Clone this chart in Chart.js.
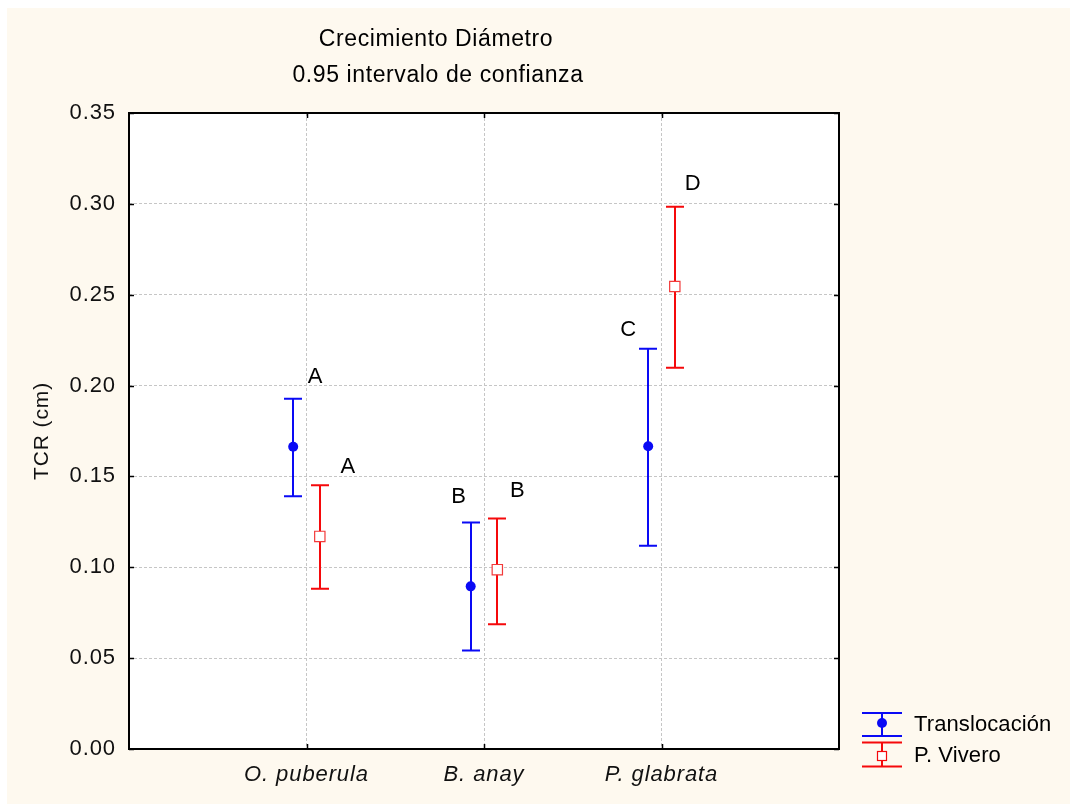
<!DOCTYPE html>
<html>
<head>
<meta charset="utf-8">
<script src="https://cdn.jsdelivr.net/npm/chart.js@4/dist/chart.umd.min.js"></script>
<style>
  html, body { margin: 0; padding: 0; background: #ffffff; }
  #wrap { position: absolute; left: 0; top: 0; width: 1070px; height: 804px; }
</style>
</head>
<body>
<div id="wrap"><canvas id="c" width="1070" height="804"></canvas></div>
<script>
// Relative growth rate of stem diameter, mean and 0.95 confidence interval
const species = ['O. puberula', 'B. anay', 'P. glabrata'];
const seriesNames = ['Translocación', 'P. Vivero'];

const translocMean = [0.1663, 0.0895, 0.1666];
const translocLow  = [0.1391, 0.0542, 0.1119];
const translocHigh = [0.1927, 0.1247, 0.2203];

const viveroMean = [0.1170, 0.0987, 0.2545];
const viveroLow  = [0.0882, 0.0687, 0.2098];
const viveroHigh = [0.1451, 0.1269, 0.2984];

// Letters of the multiple-comparison groups
const translocGroups = ['A', 'B', 'C'];
const viveroGroups   = ['A', 'B', 'D'];

const yTicks = [0.00, 0.05, 0.10, 0.15, 0.20, 0.25, 0.30, 0.35];
const titleLines = ['Crecimiento Diámetro', '0.95 intervalo de confianza'];
const yTitle = 'TCR (cm)';

// Layout / style settings
const FONT = '"Liberation Sans", Arial, Helvetica, sans-serif';
const BLUE = '#0a0af5';
const RED = '#f5090b';
const CREAM = '#fef9ef';
const GRID = '#c6c6c6';
const SHIFT = 0.075;          // horizontal shift of each series from the category centre
const CAP = 9;                // half width of whisker caps (px)
// where the group letter sits relative to the top whisker (px)
const translocLetterNudge = [[22, -22], [-12, -25], [-20, -19]];
const viveroLetterNudge   = [[28, -18], [20, -27], [18, -23]];

function points(means, shift) {
  return means.map((m, i) => ({ x: i + 1 + shift, y: m }));
}

const intervalPlugin = {
  id: 'intervals',
  beforeDraw(chart) {
    const ctx = chart.ctx;
    const a = chart.chartArea;
    ctx.fillStyle = CREAM;
    ctx.fillRect(7, 8, chart.width - 7, chart.height - 8);
    ctx.fillStyle = '#ffffff';
    ctx.fillRect(a.left, a.top, a.right - a.left, a.bottom - a.top);
    ctx.letterSpacing = '0.9px';
  },
  beforeDatasetsDraw(chart) {
    const ctx = chart.ctx;
    const xs = chart.scales.x, ys = chart.scales.y;
    ctx.save();
    chart.data.datasets.forEach(ds => {
      ctx.strokeStyle = ds.borderColor;
      ctx.lineWidth = 2;
      ds.data.forEach((p, i) => {
        const x = Math.round(xs.getPixelForValue(p.x));
        const yl = ys.getPixelForValue(ds.low[i]);
        const yh = ys.getPixelForValue(ds.high[i]);
        ctx.beginPath();
        ctx.moveTo(x, yl); ctx.lineTo(x, yh);
        ctx.moveTo(x - CAP, yl); ctx.lineTo(x + CAP, yl);
        ctx.moveTo(x - CAP, yh); ctx.lineTo(x + CAP, yh);
        ctx.stroke();
      });
    });
    ctx.restore();
  },
  afterDraw(chart) {
    const ctx = chart.ctx;
    const a = chart.chartArea;
    const xs = chart.scales.x, ys = chart.scales.y;
    ctx.save();

    // frame
    ctx.strokeStyle = '#000000';
    ctx.lineWidth = 2;
    ctx.strokeRect(a.left, a.top, a.right - a.left, a.bottom - a.top);

    // inward tick marks on all four sides
    ctx.lineWidth = 1.5;
    ctx.beginPath();
    yTicks.forEach(v => {
      const y = Math.round(ys.getPixelForValue(v)) + 0.5;
      ctx.moveTo(a.left, y); ctx.lineTo(a.left + 5, y);
      ctx.moveTo(a.right, y); ctx.lineTo(a.right - 5, y);
    });
    species.forEach((s, i) => {
      const x = Math.round(xs.getPixelForValue(i + 1)) + 0.5;
      ctx.moveTo(x, a.bottom); ctx.lineTo(x, a.bottom - 5);
      ctx.moveTo(x, a.top); ctx.lineTo(x, a.top + 5);
    });
    ctx.stroke();

    // group letters above each interval
    ctx.fillStyle = '#000000';
    ctx.font = '22px ' + FONT;
    ctx.letterSpacing = '0px';
    ctx.textAlign = 'center';
    ctx.textBaseline = 'middle';
    chart.data.datasets.forEach(ds => {
      ds.data.forEach((p, i) => {
        const x = xs.getPixelForValue(p.x) + ds.letterNudge[i][0];
        const y = ys.getPixelForValue(ds.high[i]) + ds.letterNudge[i][1];
        ctx.fillText(ds.groups[i], x, y);
      });
    });

    // titles
    ctx.font = '23px ' + FONT;
    ctx.letterSpacing = '0.6px';
    ctx.fillText(titleLines[0], 436, 40);
    ctx.fillText(titleLines[1], 438, 76);

    // legend
    const lx = 882;
    const entries = [
      { color: BLUE, top: 713, bottom: 736, mid: 723, round: true, text: seriesNames[0], ty: 725 },
      { color: RED, top: 742.5, bottom: 766.5, mid: 756, round: false, text: seriesNames[1], ty: 756 }
    ];
    entries.forEach(e => {
      ctx.strokeStyle = e.color;
      ctx.lineWidth = 2;
      ctx.beginPath();
      ctx.moveTo(lx - 20, e.top); ctx.lineTo(lx + 20, e.top);
      ctx.moveTo(lx - 20, e.bottom); ctx.lineTo(lx + 20, e.bottom);
      ctx.moveTo(lx, e.top); ctx.lineTo(lx, e.bottom);
      ctx.stroke();
      if (e.round) {
        ctx.fillStyle = e.color;
        ctx.beginPath();
        ctx.arc(lx, e.mid, 5, 0, Math.PI * 2);
        ctx.fill();
      } else {
        ctx.fillStyle = '#ffffff';
        ctx.fillRect(lx - 4.5, e.mid - 4.5, 9, 9);
        ctx.lineWidth = 1.2;
        ctx.strokeRect(lx - 4.5, e.mid - 4.5, 9, 9);
      }
      ctx.fillStyle = '#000000';
      ctx.font = '22px ' + FONT;
      ctx.letterSpacing = '0.1px';
      ctx.textAlign = 'left';
      ctx.fillText(e.text, 914, e.ty);
    });
    ctx.restore();
  }
};

new Chart(document.getElementById('c'), {
  type: 'scatter',
  data: {
    datasets: [
      {
        label: seriesNames[0],
        data: points(translocMean, -SHIFT),
        low: translocLow, high: translocHigh,
        groups: translocGroups, letterNudge: translocLetterNudge,
        borderColor: BLUE, backgroundColor: BLUE,
        pointStyle: 'circle', pointRadius: 5, pointBorderWidth: 0
      },
      {
        label: seriesNames[1],
        data: points(viveroMean, SHIFT),
        low: viveroLow, high: viveroHigh,
        groups: viveroGroups, letterNudge: viveroLetterNudge,
        borderColor: RED, backgroundColor: '#ffffff',
        pointStyle: 'rect', pointRadius: 7.3, pointBorderWidth: 1.2,
        pointBorderColor: '#f23a3a'
      }
    ]
  },
  options: {
    responsive: false,
    animation: false,
    devicePixelRatio: 1,
    layout: { padding: { top: 113, right: 231, left: 0, bottom: 0 } },
    plugins: {
      legend: { display: false },
      tooltip: { enabled: false },
      title: { display: false }
    },
    scales: {
      x: {
        type: 'linear',
        min: 0, max: 4,
        afterBuildTicks: s => { s.ticks = [0, 1, 2, 3, 4].map(v => ({ value: v })); },
        afterFit: s => { s.height = 55; },
        ticks: {
          callback: v => species[v - 1] || '',
          color: '#111111',
          font: { family: FONT, size: 22, style: 'italic' },
          padding: 13,
          maxRotation: 0, autoSkip: false
        },
        grid: {
          drawTicks: false,
          lineWidth: 1,
          color: c => (c.tick && c.tick.value >= 1 && c.tick.value <= 3) ? GRID : 'rgba(0,0,0,0)'
        },
        border: { display: false, dash: [3, 2] }
      },
      y: {
        min: 0, max: 0.35,
        afterBuildTicks: s => { s.ticks = yTicks.map(v => ({ value: v })); },
        afterFit: s => { s.width = 129; },
        ticks: {
          callback: v => v.toFixed(2),
          color: '#111111',
          font: { family: FONT, size: 22 },
          padding: 13
        },
        grid: {
          drawTicks: false,
          lineWidth: 1,
          color: c => (c.tick && c.tick.value > 0.001 && c.tick.value < 0.349) ? GRID : 'rgba(0,0,0,0)'
        },
        border: { display: false, dash: [3, 2] },
        title: {
          display: true,
          text: yTitle,
          color: '#111111',
          font: { family: FONT, size: 21 },
          padding: { top: 30, bottom: 0 }
        }
      }
    }
  },
  plugins: [intervalPlugin]
});
</script>
</body>
</html>
